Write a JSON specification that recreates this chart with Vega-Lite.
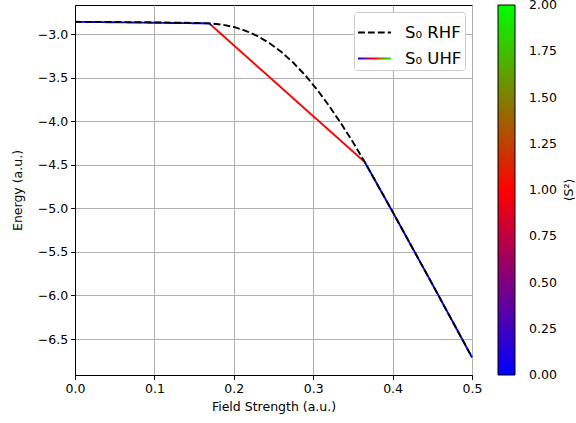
{
  "$schema": "https://vega.github.io/schema/vega-lite/v6.json",
  "width": 397,
  "height": 370,
  "autosize": {"type": "none"},
  "padding": {"left": 75, "top": 5, "right": 104, "bottom": 48},
  "background": "white",
  "config": {
    "font": "DejaVu Sans",
    "view": {"stroke": "black", "strokeWidth": 1},
    "axis": {
      "labelFont": "DejaVu Sans", "labelFontSize": 12.5, "labelColor": "black", "labelFlush": false,
      "titleFont": "DejaVu Sans", "titleFontSize": 12.5, "titleFontWeight": "normal", "titleColor": "black",
      "domainColor": "black", "domainWidth": 1, "tickColor": "black", "tickSize": 4.4, "tickWidth": 1,
      "gridColor": "#b0b0b0", "gridWidth": 1, "labelPadding": 3
    }
  },
  "datasets": {
    "uhf": [
      {"x": 0, "y": -2.860, "x2": 0.169, "y2": -2.878, "s2": 0, "series": "S₀ UHF"},
      {"x": 0.169, "y": -2.878, "x2": 0.1725, "y2": -2.906, "s2": 0.1, "series": "S₀ UHF"},
      {"x": 0.1725, "y": -2.906, "x2": 0.365, "y2": -4.47, "s2": 1.0, "series": "S₀ UHF"},
      {"x": 0.365, "y": -4.47, "x2": 0.4, "y2": -5.04, "s2": 0, "series": "S₀ UHF"},
      {"x": 0.4, "y": -5.04, "x2": 0.45, "y2": -5.87, "s2": 0, "series": "S₀ UHF"},
      {"x": 0.45, "y": -5.87, "x2": 0.5, "y2": -6.71, "s2": 0, "series": "S₀ UHF"}
    ],
    "rhf": [
      {"x": 0, "y": -2.860, "series": "S₀ RHF"},
      {"x": 0.05, "y": -2.862, "series": "S₀ RHF"},
      {"x": 0.1, "y": -2.866, "series": "S₀ RHF"},
      {"x": 0.15, "y": -2.873, "series": "S₀ RHF"},
      {"x": 0.169, "y": -2.878, "series": "S₀ RHF"},
      {"x": 0.185, "y": -2.892, "series": "S₀ RHF"},
      {"x": 0.2, "y": -2.919, "series": "S₀ RHF"},
      {"x": 0.215, "y": -2.963, "series": "S₀ RHF"},
      {"x": 0.23, "y": -3.024, "series": "S₀ RHF"},
      {"x": 0.245, "y": -3.105, "series": "S₀ RHF"},
      {"x": 0.26, "y": -3.207, "series": "S₀ RHF"},
      {"x": 0.275, "y": -3.330, "series": "S₀ RHF"},
      {"x": 0.29, "y": -3.474, "series": "S₀ RHF"},
      {"x": 0.305, "y": -3.639, "series": "S₀ RHF"},
      {"x": 0.32, "y": -3.824, "series": "S₀ RHF"},
      {"x": 0.335, "y": -4.025, "series": "S₀ RHF"},
      {"x": 0.35, "y": -4.240, "series": "S₀ RHF"},
      {"x": 0.365, "y": -4.47, "series": "S₀ RHF"},
      {"x": 0.4, "y": -5.04, "series": "S₀ RHF"},
      {"x": 0.45, "y": -5.87, "series": "S₀ RHF"},
      {"x": 0.5, "y": -6.71, "series": "S₀ RHF"}
    ]
  },
  "layer": [
    {
      "data": {"name": "uhf"},
      "mark": {"type": "rule", "strokeWidth": 1.9, "strokeCap": "butt"},
      "encoding": {
        "x": {"field": "x", "type": "quantitative",
          "scale": {"domain": [0, 0.5], "nice": false, "zero": false},
          "axis": {"values": [0, 0.1, 0.2, 0.3, 0.4, 0.5], "format": ".1f", "title": "Field Strength (a.u.)", "grid": true, "titlePadding": 6}},
        "y": {"field": "y", "type": "quantitative",
          "scale": {"domain": [-6.913, -2.667], "nice": false, "zero": false},
          "axis": {"values": [-6.5, -6, -5.5, -5, -4.5, -4, -3.5, -3], "format": ".1f", "title": "Energy (a.u.)", "grid": true, "titlePadding": 13}},
        "x2": {"field": "x2"},
        "y2": {"field": "y2"},
        "color": {"field": "s2", "type": "quantitative",
          "scale": {"domain": [0, 1, 2], "range": ["#0000ff", "#ff0000", "#00ff00"], "interpolate": "rgb"},
          "legend": {
            "title": "⟨S²⟩", "orient": "right", "offset": 22, "direction": "vertical",
            "gradientLength": 370, "gradientThickness": 17,
            "gradientStrokeColor": "black", "gradientStrokeWidth": 1,
            "values": [0, 0.25, 0.5, 0.75, 1, 1.25, 1.5, 1.75, 2], "format": ".2f",
            "labelFont": "DejaVu Sans", "labelFontSize": 12.5, "labelColor": "black", "labelOffset": 14, "labelOverlap": false,
            "titleOrient": "right", "titleFont": "DejaVu Sans", "titleFontSize": 12.5, "titleFontWeight": "normal", "titleColor": "black", "titlePadding": 19,
            "encode": {
              "title": {"update": {"angle": {"value": 270}}},
              "labels": {"update": {"baseline": {"value": "middle"}}}
            }
          }},
        "strokeDash": {"field": "series", "type": "nominal",
          "scale": {"domain": ["S₀ RHF", "S₀ UHF"], "range": [[6.9, 3], [1, 0]]},
          "legend": {
            "title": null, "orient": "top-right", "offset": 7,
            "symbolType": "stroke", "symbolSize": 1089, "symbolStrokeWidth": 1.9, "symbolStrokeColor": "black",
            "labelFont": "DejaVu Sans", "labelFontSize": 16.5, "labelColor": "black", "labelOffset": 13,
            "fillColor": "white", "strokeColor": "#cccccc", "cornerRadius": 3, "padding": 3, "rowPadding": -3,
            "encode": {
              "symbols": {"update": {
                "shape": {"signal": "datum.value === 'S₀ UHF' ? 'M-1,-0.06H1V0.06H-1Z' : 'stroke'"},
                "fill": {"signal": "datum.value === 'S₀ UHF' ? {gradient: 'linear', stops: [{offset: 0, color: '#0000ff'}, {offset: 0.5, color: '#ff0000'}, {offset: 1, color: '#00ff00'}]} : 'transparent'"},
                "stroke": {"signal": "datum.value === 'S₀ UHF' ? 'transparent' : 'black'"}
              }}
            }
          }}
      }
    },
    {
      "data": {"name": "rhf"},
      "mark": {"type": "line", "color": "black", "strokeWidth": 1.9},
      "encoding": {
        "x": {"field": "x", "type": "quantitative"},
        "y": {"field": "y", "type": "quantitative"},
        "strokeDash": {"field": "series", "type": "nominal"}
      }
    }
  ]
}
